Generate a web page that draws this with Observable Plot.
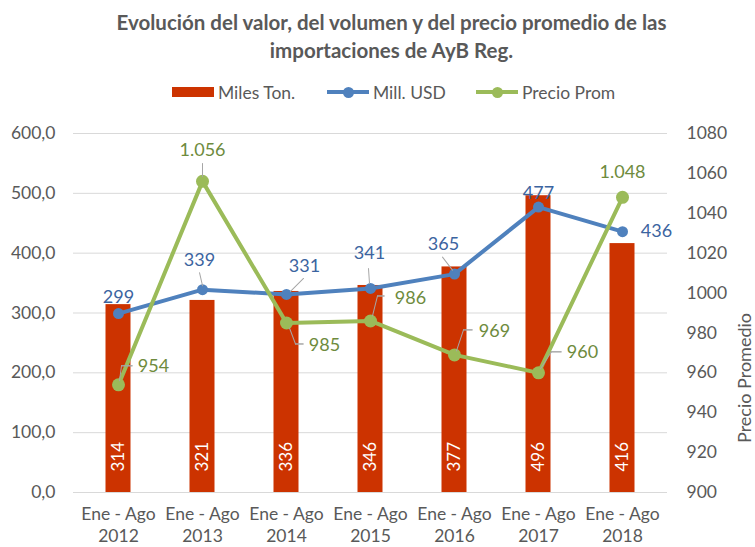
<!DOCTYPE html>
<html>
<head>
<meta charset="utf-8">
<script src="https://cdn.jsdelivr.net/npm/d3@7"></script>
<script src="https://cdn.jsdelivr.net/npm/@observablehq/plot@0.6"></script>
<style>
  body { margin: 0; width: 755px; height: 547px; background: #fff; font-family: Lato, "Open Sans", sans-serif; position: relative; overflow: hidden; }
  #title { position: absolute; top: 8px; left: 28px; width: 727px; text-align: center; font-weight: bold; font-size: 20.5px; line-height: 28px; color: #595959; }
  #legend { position: absolute; top: 80px; left: 0; width: 755px; height: 24px; }
  .lg-item { position: absolute; top: 0; height: 24px; display: flex; align-items: center; font-size: 17.5px; color: #595959; }
  #chart { position: absolute; top: 110px; left: 0; }
</style>
</head>
<body>
<div id="title">Evolución del valor, del volumen y del precio promedio de las<br>importaciones de AyB Reg.</div>
<div id="legend"></div>
<div id="chart"></div>
<script>
// ---- data ----
const years = [2012, 2013, 2014, 2015, 2016, 2017, 2018];
const periodLabel = "Ene - Ago";
const milesTon = [314, 321, 336, 346, 377, 496, 416];
const millUSD = [299, 339, 331, 341, 365, 477, 436];
const precioProm = [954, 1056, 985, 986, 969, 960, 1048];
const leftTicks = [0, 100, 200, 300, 400, 500, 600];
const rightTicks = [900, 920, 940, 960, 980, 1000, 1020, 1040, 1060, 1080];
const seriesNames = ["Miles Ton.", "Mill. USD", "Precio Prom"];
const rightAxisTitle = "Precio Promedio";

// ---- layout (pixel offsets of data labels and leader lines) ----
const blueLabelOffsets = [[0,-16],[-3,-29],[18,-28],[-1,-35],[-11,-30],[0,-14],[34,0]];
const greenLabelOffsets = [[35,-19],[0,-31],[38,22],[40,-23],[40,-24],[44,-21],[0,-25]];
const blueLeaders = {1: [[0,-4],[-3,-17]], 2: [[4,-3],[17,-16]], 3: [[-1,-5],[-2,-20]], 4: [[-2,-4],[-12,-17]]};
const greenLeaders = {0: [[1,-4],[3,-19],[14,-19]], 1: [[0,-5],[0,-18]], 2: [[3,5],[9,21],[17,21]], 3: [[2,-5],[7,-25],[14,-25]], 4: [[2,-4],[9,-25],[18,-25]], 5: [[2,-4],[13,-21],[23,-21]]};

const colBar = "#CC3300", colBlue = "#4F81BD", colGreen = "#9BBB59";
const colBlueText = "#3B64A0", colGreenText = "#6E8B3D", colText = "#595959", colLeader = "#A6A6A6";

// right axis (900–1080) mapped onto left axis (0–600)
const rMin = 900, rMax = 1080, lMax = 600;
const toLeft = v => (v - rMin) * lMax / (rMax - rMin);
const fromLeft = v => Math.round(v * (rMax - rMin) / lMax + rMin);

const loc = d3.formatLocale({decimal: ",", thousands: ".", grouping: [3], currency: ["", ""]});
const fmtInt = loc.format(",d");
const fmtLeft = loc.format(",.1f");

const rows = years.map((y, i) => ({year: y, miles: milesTon[i], usd: millUSD[i], precio: precioProm[i], precioY: toLeft(precioProm[i])}));

function leaderMarks(leaders, yKey) {
  const marks = [];
  for (const [k, pts] of Object.entries(leaders)) {
    const r = rows[+k];
    for (let s = 0; s < pts.length - 1; s++) {
      const [a, b] = pts[s], [c, d] = pts[s + 1];
      const vx = c - a, vy = d - b;
      marks.push(Plot.vector([r], {
        x: "year", y: yKey, dx: a, dy: b,
        length: Math.hypot(vx, vy), rotate: Math.atan2(vx, -vy) * 180 / Math.PI,
        anchor: "start", shape: "spike", r: 0, stroke: colLeader, strokeWidth: 1, fill: "none"
      }));
    }
  }
  return marks;
}

const blueLabels = rows.map((r, i) => Plot.text([r], {
  x: "year", y: "usd", text: d => fmtInt(d.usd), dx: blueLabelOffsets[i][0], dy: blueLabelOffsets[i][1],
  fill: colBlueText, fontSize: 18
}));
const greenLabels = rows.map((r, i) => Plot.text([r], {
  x: "year", y: "precioY", text: d => fmtInt(d.precio), dx: greenLabelOffsets[i][0], dy: greenLabelOffsets[i][1],
  fill: colGreenText, fontSize: 18
}));

const chart = Plot.plot({
  width: 755,
  height: 437,
  marginTop: 23,
  marginBottom: 55,
  marginLeft: 73,
  marginRight: 88,
  style: {fontFamily: "Lato, 'Open Sans', sans-serif", fontSize: "17px", background: "white"},
  x: {type: "band", domain: years, padding: 0},
  y: {domain: [0, 600]},
  marks: [
    Plot.gridY(leftTicks, {stroke: "#D9D9D9", strokeOpacity: 1, strokeWidth: 1}),
    Plot.axisY(leftTicks, {anchor: "left", tickSize: 0, tickPadding: 18, tickFormat: d => fmtLeft(d), color: colText, fontSize: 17.5, label: null}),
    Plot.axisY(rightTicks.map(toLeft), {anchor: "right", tickSize: 0, tickPadding: 19, tickFormat: d => String(fromLeft(d)), color: colText, fontSize: 17.5, label: null, textAnchor: "start"}),
    Plot.axisX({tickSize: 0, tickPadding: 11, tickFormat: d => `${periodLabel}\n${d}`, lineHeight: 1.3, color: colText, fontSize: 17.5, label: null}),
    Plot.text([rightAxisTitle], {frameAnchor: "right", rotate: -90, dx: 78, fontSize: 18, fill: colText}),
    Plot.barY(rows, {x: "year", y: "miles", fill: colBar, insetLeft: 29.5, insetRight: 29.5}),
    Plot.text(rows, {x: "year", y: 0, text: d => String(d.miles), rotate: -90, textAnchor: "start", dy: -21, fill: "white", fontSize: 17}),
    Plot.line(rows, {x: "year", y: "usd", stroke: colBlue, strokeWidth: 4}),
    Plot.dot(rows, {x: "year", y: "usd", r: 5.5, fill: colBlue}),
    Plot.line(rows, {x: "year", y: "precioY", stroke: colGreen, strokeWidth: 4}),
    Plot.dot(rows, {x: "year", y: "precioY", r: 6.5, fill: colGreen}),
    ...leaderMarks(blueLeaders, "usd"),
    ...leaderMarks(greenLeaders, "precioY"),
    ...blueLabels,
    ...greenLabels
  ]
});
document.getElementById("chart").appendChild(chart);

// legend (HTML)
const legend = document.getElementById("legend");
const legendLayout = [
  {left: 172, type: "rect", color: colBar},
  {left: 327, type: "line", color: colBlue},
  {left: 476, type: "line", color: colGreen}
];
seriesNames.forEach((name, i) => {
  const L = legendLayout[i];
  const item = document.createElement("div");
  item.className = "lg-item";
  item.style.left = L.left + "px";
  const sw = document.createElement("div");
  sw.style.position = "relative";
  sw.style.width = "42px";
  sw.style.height = "24px";
  sw.style.marginRight = "4px";
  if (L.type === "rect") {
    sw.innerHTML = `<div style="position:absolute;left:0;top:7px;width:42px;height:10px;background:${L.color}"></div>`;
  } else {
    sw.innerHTML = `<div style="position:absolute;left:0;top:10px;width:42px;height:4px;background:${L.color}"></div>` +
      `<div style="position:absolute;left:15.5px;top:6.5px;width:11px;height:11px;border-radius:50%;background:${L.color}"></div>`;
  }
  item.appendChild(sw);
  const t = document.createElement("span");
  t.textContent = name;
  item.appendChild(t);
  legend.appendChild(item);
});
</script>
</body>
</html>
